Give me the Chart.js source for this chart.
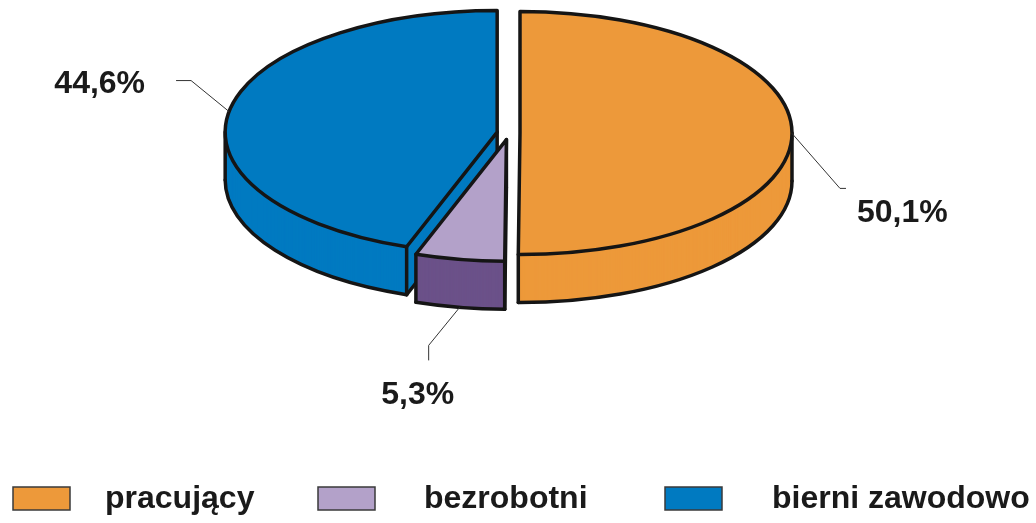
<!DOCTYPE html>
<html>
<head>
<meta charset="utf-8">
<script src="https://cdn.jsdelivr.net/npm/chart.js@4.4.1/dist/chart.umd.min.js"></script>
<style>
  html, body { margin: 0; padding: 0; background: #fff; }
  #wrap { width: 1036px; height: 523px; }
</style>
</head>
<body>
<div id="wrap"><canvas id="myChart" width="1036" height="523"></canvas></div>
<script>
// data
const categories = ['pracujący', 'bezrobotni', 'bierni zawodowo'];
const shares = [50.1, 5.3, 44.6];
const shareLabels = ['50,1%', '5,3%', '44,6%'];

// look
const topColors = ['#ED993A', '#B3A1C9', '#007AC1'];
const sideColors = ['#ED993A', '#6B5189', '#007AC1'];
const explode = [11, 15, 12];
const tilt = 0.447;
const depth = 48;
const outline = '#151515';
const textColor = '#1a1a1a';
const font = 'bold 32px "Liberation Sans", Arial, sans-serif';

// leader lines: elbow offset from the rim, then a short tail, then the text
const leaderElbow = [[48, 55], [-31, 38], [-38, -31]];
const leaderTail = [[6, 0], [0, 15], [-15, 0]];
const labelShift = [[11, 34, 'left'], [-11, 44, 'center'], [-31, 12, 'right']];

// legend layout
const legendBoxX = [13, 318, 665];
const legendTextX = [105, 424, 772];

function sectorPath(ctx, s, dy) {
    ctx.beginPath();
    ctx.moveTo(s.cx, s.cy + dy);
    ctx.ellipse(s.cx, s.cy + dy, s.r, s.ry, 0, s.a0, s.a1);
    ctx.closePath();
}

function drawSlice(ctx, s) {
    const { el, i, a0, a1, cx, cy, r, ry } = s;
    const rim = (a, dy) => [cx + r * Math.cos(a), cy + ry * Math.sin(a) + dy];
    const seg = (p, q) => {
        ctx.beginPath();
        ctx.moveTo(p[0], p[1]);
        ctx.lineTo(q[0], q[1]);
        ctx.stroke();
    };

    ctx.save();
    // walls
    ctx.fillStyle = sideColors[i];
    for (let dy = depth; dy > 0; dy--) {
        sectorPath(ctx, s, dy);
        ctx.fill();
    }
    ctx.strokeStyle = outline;
    ctx.lineWidth = 3.5;
    ctx.lineJoin = 'round';
    ctx.lineCap = 'round';

    const f0 = Math.max(a0, 0), f1 = Math.min(a1, Math.PI);
    if (f1 > f0) {
        ctx.beginPath();
        ctx.ellipse(cx, cy + depth, r, ry, 0, f0, f1);
        ctx.stroke();
    }
    const startVis = -Math.cos(a0) > 1e-3;
    const endVis = Math.cos(a1) > 1e-3;
    if (startVis) seg([cx, cy + depth], rim(a0, depth));
    if (endVis) seg([cx, cy + depth], rim(a1, depth));

    const verts = [];
    if (startVis || endVis) verts.push([cx, cy]);
    if (startVis || Math.sin(a0) > 0) verts.push(rim(a0, 0));
    if (endVis || Math.sin(a1) > 0) verts.push(rim(a1, 0));
    [0, Math.PI].forEach(a => { if (a > a0 && a < a1) verts.push(rim(a, 0)); });
    verts.forEach(p => seg(p, [p[0], p[1] + depth]));

    // top face, drawn by the arc element itself on a flattened context
    ctx.save();
    ctx.translate(0, el.y);
    ctx.scale(1, tilt);
    ctx.translate(cx - el.x, (cy - el.y) / tilt - el.y);
    el.draw(ctx);
    ctx.restore();

    sectorPath(ctx, s, 0);
    ctx.stroke();
    ctx.restore();
}

const pie3d = {
    id: 'pie3d',
    beforeDatasetsDraw(chart) {
        const ctx = chart.ctx;
        const meta = chart.getDatasetMeta(0);
        const slices = meta.data.map((el, i) => {
            const a0 = el.startAngle, a1 = el.endAngle, mid = (a0 + a1) / 2;
            return {
                el, i, a0, a1, mid,
                r: el.outerRadius,
                ry: el.outerRadius * tilt,
                cx: el.x + Math.cos(mid) * explode[i],
                cy: el.y + Math.sin(mid) * explode[i] * tilt
            };
        });
        chart.$slices = slices;
        slices.slice()
            .sort((p, q) => Math.sin(p.mid) - Math.sin(q.mid))
            .forEach(s => drawSlice(ctx, s));
        return false;
    },
    afterDraw(chart) {
        const ctx = chart.ctx;
        ctx.save();
        ctx.font = font;
        ctx.fillStyle = textColor;
        ctx.textBaseline = 'alphabetic';

        (chart.$slices || []).forEach(s => {
            const i = s.i;
            const dy = Math.sin(s.mid) > 0.5 ? depth : 0;
            const ax = s.cx + s.r * Math.cos(s.mid);
            const ay = s.cy + s.ry * Math.sin(s.mid) + dy;
            const ex = ax + leaderElbow[i][0], ey = ay + leaderElbow[i][1];
            const tx = ex + leaderTail[i][0], ty = ey + leaderTail[i][1];
            ctx.strokeStyle = '#333';
            ctx.lineWidth = 1;
            ctx.beginPath();
            ctx.moveTo(ax, ay);
            ctx.lineTo(ex, ey);
            ctx.lineTo(tx, ty);
            ctx.stroke();
            ctx.textAlign = labelShift[i][2];
            ctx.fillText(shareLabels[i], tx + labelShift[i][0], ty + labelShift[i][1]);
        });

        // legend
        ctx.textAlign = 'left';
        categories.forEach((name, i) => {
            ctx.fillStyle = topColors[i];
            ctx.fillRect(legendBoxX[i], 487, 57, 23);
            ctx.strokeStyle = '#3a3a3a';
            ctx.lineWidth = 1.5;
            ctx.strokeRect(legendBoxX[i], 487, 57, 23);
            ctx.fillStyle = textColor;
            ctx.fillText(name, legendTextX[i], 508);
        });
        ctx.restore();
    }
};

document.addEventListener('DOMContentLoaded', function () {
    const ctx = document.getElementById('myChart').getContext('2d');
    new Chart(ctx, {
        type: 'pie',
        data: {
            labels: categories,
            datasets: [{
                data: shares,
                backgroundColor: topColors,
                borderWidth: 0,
                offset: 0,
                hoverOffset: 0,
                radius: 272
            }]
        },
        options: {
            responsive: false,
            animation: false,
            events: [],
            layout: { padding: { left: 0, right: 18, top: 0, bottom: 257 } },
            plugins: {
                legend: { display: false },
                tooltip: { enabled: false }
            }
        },
        plugins: [pie3d]
    });
});
</script>
</body>
</html>
